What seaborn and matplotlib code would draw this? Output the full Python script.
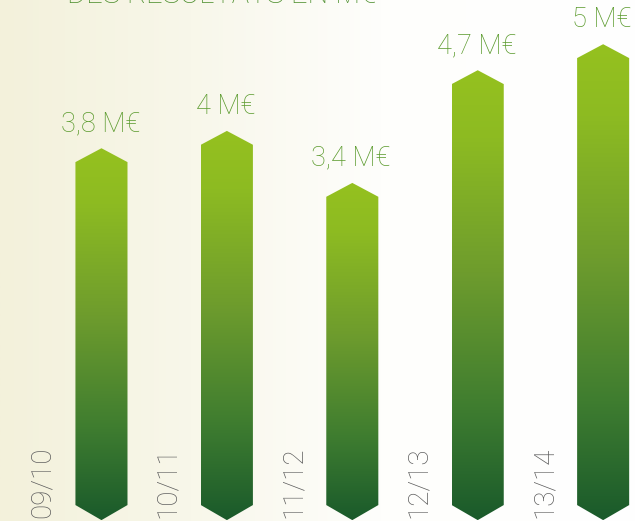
import numpy as np
import matplotlib
matplotlib.use("Agg")
import matplotlib.pyplot as plt
from matplotlib.colors import LinearSegmentedColormap
from matplotlib.patches import Polygon
import seaborn as sns

# ---- data ----
seasons = ["09/10", "10/11", "11/12", "12/13", "13/14"]
results = [3.8, 4.0, 3.4, 4.7, 5.0]
value_labels = ["3,8 M€", "4 M€", "3,4 M€", "4,7 M€", "5 M€"]
title = "DES RÉSULTATS EN M€"

sns.set_theme(style="white")
plt.rcParams["font.family"] = ["Roboto", "DejaVu Sans"]

W, H = 636, 521
fig = plt.figure(figsize=(W / 100, H / 100), dpi=100)
ax = fig.add_axes([0, 0, 1, 1])

sns.barplot(x=seasons, y=results, ax=ax, width=0.415, color="#95c11f")

XL = (-0.809, 4.262)
YL = (-0.50, 5.51)
ax.set_xlim(*XL)
ax.set_ylim(*YL)
ax.axis("off")

# background gradient (cream left -> white right)
bg = LinearSegmentedColormap.from_list(
    "bg", [(0.0, "#f3f1db"), (0.3, "#f8f7ea"), (0.6, "#fefefc"), (1.0, "#ffffff")])
grad = np.linspace(0, 1, 256).reshape(1, -1)
ax.imshow(grad, cmap=bg, extent=[XL[0], XL[1], YL[0], YL[1]], aspect="auto", zorder=0)

bar_cmap = LinearSegmentedColormap.from_list(
    "bar", [(0.0, "#1a5a2b"), (0.25, "#3f7d30"), (0.55, "#6e9c2d"), (0.85, "#8dbb22"), (1.0, "#95c11f")]
)

shoulder = 0.16
body_bottom = -0.316
tip = -0.49

for i, p in enumerate(list(ax.patches)):
    x0 = p.get_x()
    w = p.get_width()
    top = p.get_height()
    xc = x0 + w / 2
    p.set_visible(False)
    verts = [
        (x0, top - shoulder), (xc, top), (x0 + w, top - shoulder),
        (x0 + w, body_bottom), (xc, tip), (x0, body_bottom),
    ]
    poly = Polygon(verts, closed=True, facecolor="none", edgecolor="none", zorder=2)
    ax.add_patch(poly)
    g = np.linspace(0, 1, 256).reshape(-1, 1)
    im = ax.imshow(g, cmap=bar_cmap, origin="lower", extent=[x0, x0 + w, tip, top],
                   aspect="auto", zorder=2)
    im.set_clip_path(poly)

    ax.text(xc - 0.01, top + 0.198, value_labels[i], ha="center", va="baseline",
            fontsize=19.5, color="#5a9a2c", fontweight="light")
    ax.text(xc - 0.47, -0.466, seasons[i], rotation=90, ha="center", va="bottom",
            fontsize=20, color="#5e5e5e", fontweight="light")

ax.set_xlim(*XL)
ax.set_ylim(*YL)

fig.text(376 / W, 1 - 3 / H, title, ha="right", va="baseline", fontsize=21,
         color="#4f9030", fontweight="light")

fig.savefig("out.png", dpi=100)
